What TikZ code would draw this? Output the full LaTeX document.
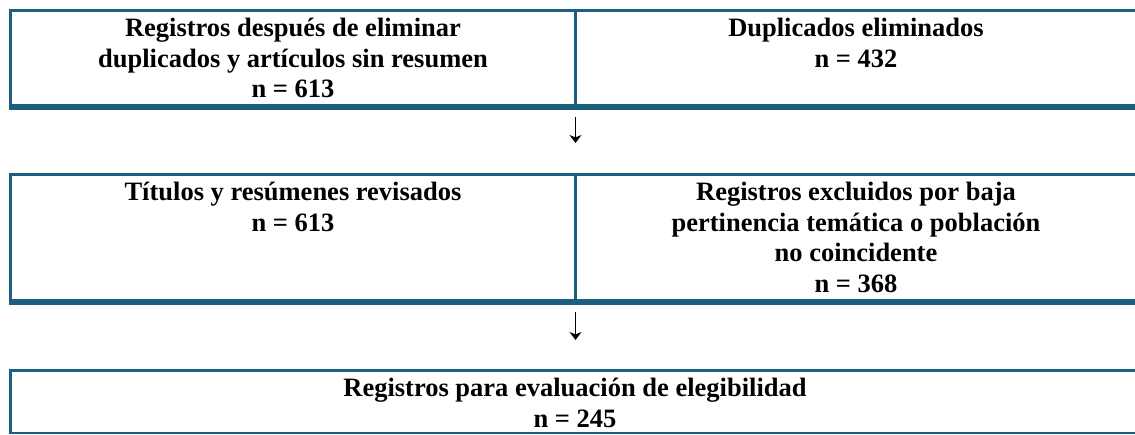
\documentclass[tikz,border=0pt]{standalone}
\usepackage{fontspec}
\setmainfont{Liberation Serif}
\usetikzlibrary{arrows.meta}
\definecolor{tablerule}{HTML}{1B5E80}
\newcommand{\cellfont}{\fontsize{13.25}{15.25}\selectfont\bfseries}

\begin{document}
\begin{tikzpicture}[x=0.5pt, y=-0.5pt, font=\cellfont,
	cell/.style={anchor=north, inner sep=0pt, align=center},
	thinrule/.style={color=tablerule, line width=1.5pt},
	thickrule/.style={color=tablerule, line width=3pt},
	downarrow/.style={line width=0.75pt, -{Stealth[length=4pt,width=6pt,inset=1.2pt]}}]
	\useasboundingbox (0,0) rectangle (1135,434);
	\draw[thinrule] (9,10.5) -- (1135,10.5);
	\draw[thinrule] (10.5,9) -- (10.5,109);
	\draw[thinrule] (575.5,10.5) -- (575.5,104);
	\draw[thickrule] (9,106.5) -- (1135,106.5);
	\node[cell] (reg) at (293,15.2) {\strut Registros después de eliminar\\duplicados y artículos sin resumen\\n = 613};
	\node[cell] (dup) at (856,15.2) {\strut Duplicados eliminados\\n = 432};
	\coordinate (gap1top) at (575.5,109);
	\coordinate (gap1bot) at (575.5,173);
	\draw[downarrow, shorten <=4pt, shorten >=15pt] (gap1top) -- (gap1bot);
	\draw[thinrule] (9,174.5) -- (1135,174.5);
	\draw[thinrule] (10.5,173) -- (10.5,305);
	\draw[thinrule] (575.5,174.5) -- (575.5,299);
	\draw[thickrule] (9,302) -- (1135,302);
	\node[cell] (tit) at (293,179.2) {\strut Títulos y resúmenes revisados\\n = 613};
	\node[cell] (exc) at (856,179.2) {\strut Registros excluidos por baja\\pertinencia temática o población\\no coincidente\\n = 368};
	\coordinate (gap2top) at (575.5,305);
	\coordinate (gap2bot) at (575.5,369);
	\draw[downarrow, shorten <=3.5pt, shorten >=14.5pt] (gap2top) -- (gap2bot);
	\draw[thinrule] (9,370.5) -- (1135,370.5);
	\draw[thinrule] (10.5,369) -- (10.5,433.75);
	\draw[color=tablerule, line width=0.75pt] (9,433) -- (1135,433);
	\node[cell] (eleg) at (575,375.2) {\strut Registros para evaluación de elegibilidad\\n = 245};
\end{tikzpicture}
\end{document}
